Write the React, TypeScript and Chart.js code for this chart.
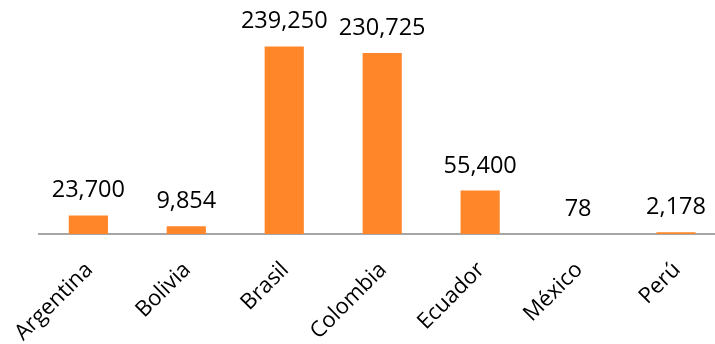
import React, { useEffect, useRef } from "react";
import { Chart, registerables } from "chart.js";

Chart.register(...registerables);

const categories = ["Argentina", "Bolivia", "Brasil", "Colombia", "Ecuador", "México", "Perú"];
const values = [23700, 9854, 239250, 230725, 55400, 78, 2178];
const valueLabels = ["23,700", "9,854", "239,250", "230,725", "55,400", "78", "2,178"];

const FONT = "'Open Sans', sans-serif";

const dataLabelPlugin = {
  id: "dataLabels",
  afterDatasetsDraw(chart: any) {
    const ctx = chart.ctx;
    const meta = chart.getDatasetMeta(0);
    ctx.save();
    ctx.font = `23.5px ${FONT}`;
    ctx.fillStyle = "#000000";
    ctx.textAlign = "center";
    ctx.textBaseline = "alphabetic";
    meta.data.forEach((bar: any, i: number) => {
      ctx.fillText(valueLabels[i], bar.x, bar.y - 18);
    });
    ctx.restore();
  },
};

export default function App() {
  const ref = useRef<HTMLCanvasElement | null>(null);
  useEffect(() => {
    if (!ref.current) return;
    document.body.style.overflow = "hidden";
    const chart = new Chart(ref.current, {
      type: "bar",
      data: {
        labels: categories,
        datasets: [
          {
            data: values,
            backgroundColor: "#FF8629",
            borderWidth: 0,
            categoryPercentage: 1,
            barPercentage: 0.4,
          },
        ],
      },
      options: {
        responsive: false,
        animation: false,
        layout: { padding: { top: 38, left: 39, right: 0, bottom: 0 } },
        plugins: { legend: { display: false }, tooltip: { enabled: false } },
        scales: {
          y: { display: false, min: 0, max: 250000 },
          x: {
            grid: { display: false },
            border: { display: true, color: "#A6A6A6", width: 2 },
            ticks: {
              maxRotation: 45,
              minRotation: 45,
              autoSkip: false,
              color: "#000000",
              font: { family: FONT, size: 22 },
              labelOffset: 1,
              padding: 15,
            },
            afterFit: (scale: any) => {
              scale.height = 110;
            },
          },
        },
      },
      plugins: [dataLabelPlugin],
    });
    return () => chart.destroy();
  }, []);
  return (
    <div style={{ position: "fixed", left: 0, top: 0, width: 715, height: 344, overflow: "hidden", background: "#fff" }}>
      <canvas ref={ref} width={725} height={344} style={{ width: 725, height: 344 }} />
    </div>
  );
}
